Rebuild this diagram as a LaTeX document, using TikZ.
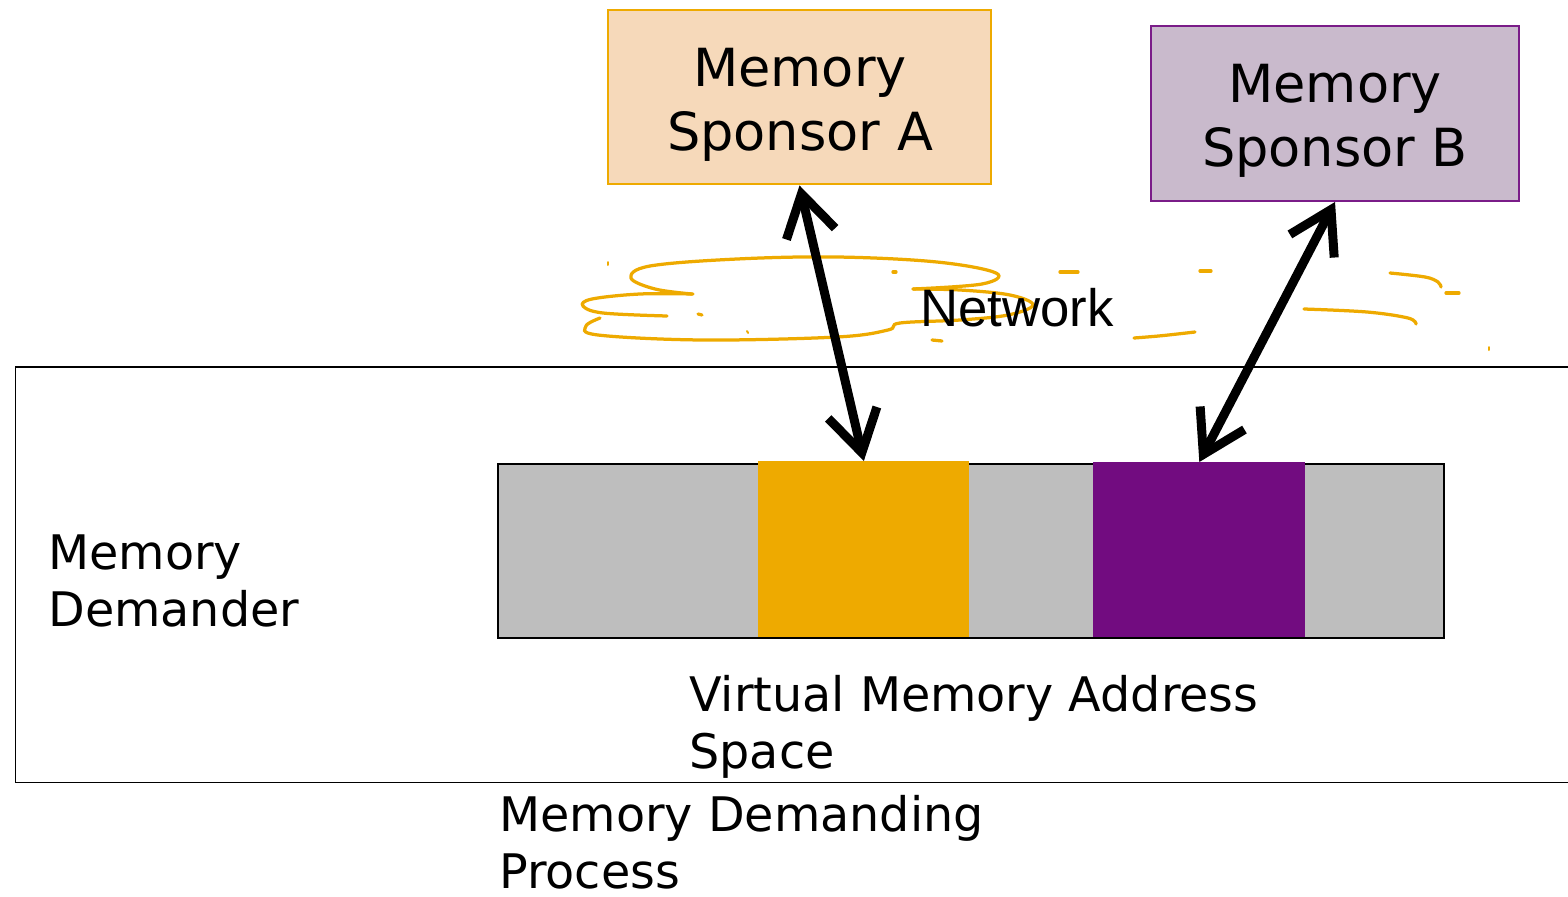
\documentclass[tikz,border=0pt]{standalone}
\usepackage{fontspec}
\setmainfont{DejaVu Sans}
\newfontfamily\netfont{Liberation Sans}
\usetikzlibrary{arrows.meta}

\definecolor{amber}{HTML}{EEAA00}
\definecolor{peach}{HTML}{F6D9BA}
\definecolor{plum}{HTML}{720C80}
\definecolor{lilac}{HTML}{C9BACC}
\definecolor{plumedge}{HTML}{7A1C88}
\definecolor{slot}{HTML}{BEBEBE}

\tikzset{
  bigtext/.style={font=\fontsize{29.9}{36.4}\selectfont, align=center, inner sep=0pt},
  stdtext/.style={font=\fontsize{27.1}{32.4}\selectfont, align=left, inner sep=0pt, anchor=base west},
  sponsorbox/.style={draw, line width=0.04cm, inner sep=0pt, minimum width=7.68cm, minimum height=3.5cm},
  segment/.style={inner sep=0pt, minimum width=4.22cm, draw=none},
  link/.style={line width=0.18cm, {Straight Barb[length=0.82cm,width=1.0cm,line join=miter]}-{Straight Barb[length=0.82cm,width=1.0cm,line join=miter]}},
  cloudline/.style={amber, line width=0.065cm, line cap=round},
}

\begin{document}
\begin{tikzpicture}[x=0.02cm, y=-0.02cm]
\useasboundingbox (0,0) rectangle (1568,896);

% the demanding process frame (runs past the right edge)
\node[draw, line width=0.03cm, inner sep=0pt, anchor=north west,
      minimum width=31.3cm, minimum height=8.32cm] (proc) at (15,366) {};

% network cloud, drawn as broken strokes
\draw[cloudline] plot[smooth, tension=0.6] coordinates
  {(692,294) (655,289) (631,278) (650,266) (737,259) (837,257) (937,262) (996,273) (982,284) (913,289)};
\draw[cloudline] plot[smooth, tension=0.6] coordinates
  {(693,294) (640,294) (592,299) (583,306) (603,313) (667,316)};
\draw[cloudline] plot[smooth, tension=0.6] coordinates
  {(600,318) (586,326) (598,335) (703,340) (837,337) (888,330) (900,323) (960,320) (1008,315) (1033,305) (1010,295) (960,290) (913,289)};
\draw[cloudline] (1060,272) -- (1078,272);
\draw[cloudline] (1200,271) -- (1211,271);
\draw[cloudline] (1134,338) .. controls (1160,336) .. (1195,332);
\draw[cloudline] plot[smooth, tension=0.6] coordinates {(1304,309) (1367,312) (1408,318) (1416,324)};
\draw[cloudline] plot[smooth, tension=0.6] coordinates {(1390,273) (1425,277) (1438,282) (1441,287)};
\draw[cloudline] (1446,293) -- (1459,293);
\draw[cloudline] (932,340) -- (942,341);
\draw[cloudline] (893,272) -- (896,272);
\draw[cloudline] (698,314) -- (702,315);
\draw[cloudline, line width=0.04cm] (747,331) -- (748,333);
\draw[cloudline, line width=0.04cm] (608,262) -- (608,265);
\draw[cloudline, line width=0.04cm] (1489,347) -- (1489,350);

\node[font=\netfont\fontsize{30}{36}\selectfont, inner sep=0pt, anchor=base west] (net) at (920,326) {Network};

% sponsors (text anchored on the baseline of its last line)
\node[sponsorbox, draw=amber, fill=peach] (sa) at (799.5,97) {};
\node[bigtext, anchor=base] (saText) at (800,150) {Memory\\Sponsor A};
\node[sponsorbox, draw=plumedge, fill=lilac, minimum width=7.36cm] (sb) at (1335,113.5) {};
\node[bigtext, anchor=base] (sbText) at (1335,166) {Memory\\Sponsor B};

% virtual address space bar with the two borrowed ranges
\node[draw, line width=0.035cm, fill=slot, inner sep=0pt, anchor=north west,
      minimum width=18.92cm, minimum height=3.48cm] (bar) at (497,463) {};
\node[segment, fill=amber, anchor=north west, minimum height=3.52cm] (segA) at (758,461) {};
\node[segment, fill=plum, anchor=north west, minimum height=3.5cm, minimum width=4.24cm] (segB) at (1093,462) {};

% labels
\node[stdtext] (dem) at (48,626) {Memory\\Demander};
\node[stdtext] (vas) at (689,768) {Virtual Memory Address\\Space};
\node[stdtext] (mdp) at (499,888) {Memory Demanding\\Process};

% remote memory links
\draw[link] (sa.south) -- (segA.north);
\draw[link] (sb.south) -- (segB.north);
\end{tikzpicture}
\end{document}
